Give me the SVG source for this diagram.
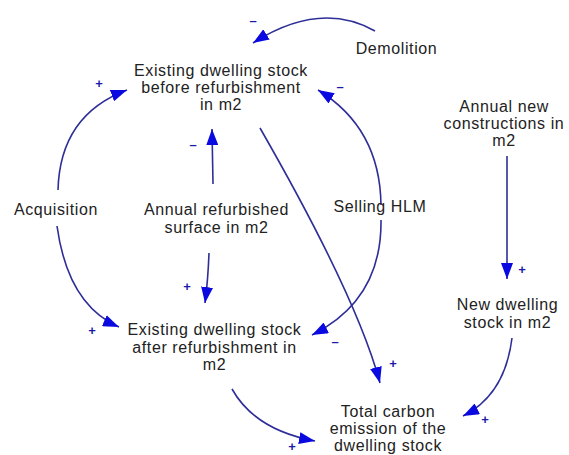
<svg xmlns="http://www.w3.org/2000/svg" width="569" height="455" viewBox="0 0 569 455">
<style>
.lbl{font-family:"Liberation Sans",Arial,sans-serif;font-size:16px;letter-spacing:0.6px;fill:#222;text-anchor:middle}
.lnk{fill:none;stroke:#2e2e98;stroke-width:1.6;marker-end:url(#ah)}
.sg{font-family:"Liberation Sans",Arial,sans-serif;font-size:13px;font-weight:bold;fill:#1a1aa8;text-anchor:middle}
</style>
<defs>
<marker id="ah" viewBox="0 0 16 12" refX="16" refY="6" markerWidth="16" markerHeight="12" markerUnits="userSpaceOnUse" orient="auto">
<path d="M0,0 L16,6 L0,12 z" fill="#0a0ae0"/>
</marker>
</defs>
<rect width="569" height="455" fill="#fff"/>
<g id="connectors">
<path class="lnk" d="M375,31 Q320,0 253,43"/>
<path class="lnk" d="M58,190 Q60,115 127,90"/>
<path class="lnk" d="M57,226 Q68,305 119,327"/>
<path class="lnk" d="M381,205 Q380,128 318,90"/>
<path class="lnk" d="M381,220 Q382,300 312,335"/>
<path class="lnk" d="M260,128 Q357,297 380,383"/>
<path class="lnk" d="M213,184 L212,129"/>
<path class="lnk" d="M209,253 Q208,280 205,303"/>
<path class="lnk" d="M507,156 L507,279"/>
<path class="lnk" d="M512,338 Q505,395 463,416"/>
<path class="lnk" d="M232,389 Q255,430 315,441"/>
</g>
<g id="signs">
<text class="sg" x="253" y="25">–</text>
<text class="sg" x="99" y="88">+</text>
<text class="sg" x="92" y="335">+</text>
<text class="sg" x="340" y="91">–</text>
<text class="sg" x="335" y="346">–</text>
<text class="sg" x="193" y="149">–</text>
<text class="sg" x="187" y="291">+</text>
<text class="sg" x="522" y="274">+</text>
<text class="sg" x="393" y="368">+</text>
<text class="sg" x="485" y="424">+</text>
<text class="sg" x="292" y="451">+</text>
</g>
<g id="demolition"><text class="lbl" x="396.5" y="54">Demolition</text></g>
<g id="before"><text class="lbl" x="221" y="76">Existing dwelling stock</text><text class="lbl" x="221" y="93">before refurbishment</text><text class="lbl" x="221" y="110">in m2</text></g>
<g id="annual-new"><text class="lbl" x="504" y="111.5">Annual new</text><text class="lbl" x="504" y="128.5">constructions in</text><text class="lbl" x="504" y="145.5">m2</text></g>
<g id="acquisition"><text class="lbl" x="56" y="215">Acquisition</text></g>
<g id="annual-refurb"><text class="lbl" x="216.5" y="215">Annual refurbished</text><text class="lbl" x="216.5" y="233">surface in m2</text></g>
<g id="selling"><text class="lbl" x="380" y="211.5">Selling HLM</text></g>
<g id="new-stock"><text class="lbl" x="507.5" y="310">New dwelling</text><text class="lbl" x="507.5" y="327.5">stock in m2</text></g>
<g id="after"><text class="lbl" x="214.5" y="335">Existing dwelling stock</text><text class="lbl" x="214.5" y="352.5">after refurbishment in</text><text class="lbl" x="214.5" y="370">m2</text></g>
<g id="total"><text class="lbl" x="388" y="416.5">Total carbon</text><text class="lbl" x="388" y="433.5">emission of the</text><text class="lbl" x="388" y="450.5">dwelling stock</text></g>
</svg>
